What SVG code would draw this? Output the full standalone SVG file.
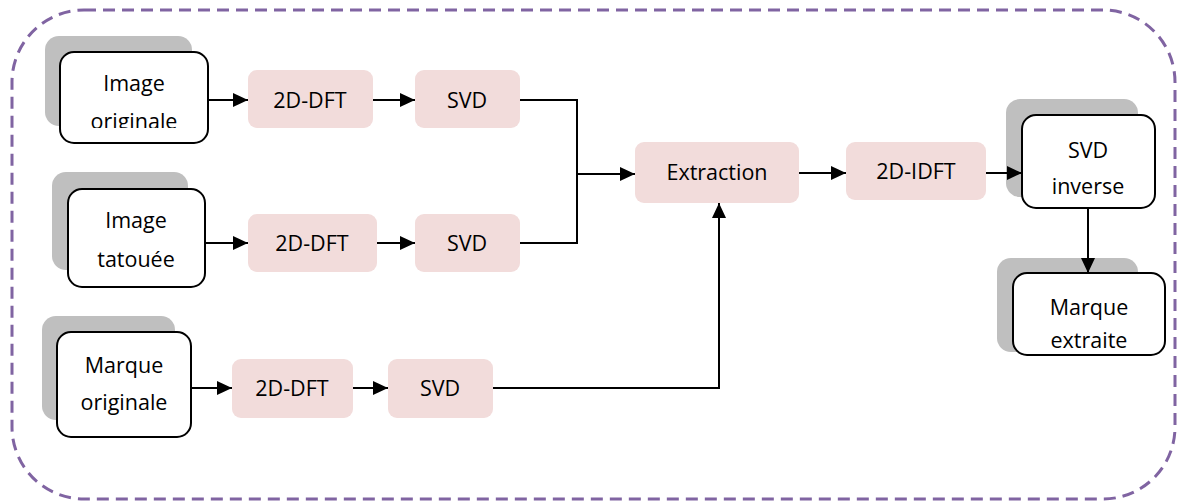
<svg xmlns="http://www.w3.org/2000/svg" width="1179" height="503" viewBox="0 0 1179 503">
<defs>
<marker id="ah" markerWidth="15" markerHeight="14" refX="15" refY="7" orient="auto" markerUnits="userSpaceOnUse">
<path d="M0,0 L15,7 L0,14 Z" fill="#000"/>
</marker>
<clipPath id="c1"><rect x="60" y="52" width="148" height="76"/></clipPath>
</defs>
<style>
.shadow{fill:#BFBFBF;}
.box{fill:#fff;stroke:#000;stroke-width:2;}
.proc{fill:#F2DCDB;}
text{font-family:"Open Sans","Liberation Sans",sans-serif;font-size:21.5px;fill:#000;text-anchor:middle;dominant-baseline:central;}
.conn{fill:none;stroke:#000;stroke-width:2;}
</style>
<rect x="12" y="10" width="1163" height="489" rx="72" ry="72" fill="none" stroke="#8064A2" stroke-width="3" stroke-dasharray="12 7"/>
<g id="n-orig">
<rect class="shadow" x="45" y="36" width="147" height="90" rx="14"/>
<rect class="box" x="60" y="52" width="148" height="91" rx="14"/>
<g clip-path="url(#c1)">
<text x="134" y="82">Image</text>
<text x="134" y="120">originale</text>
</g>
</g>
<g id="n-tat">
<rect class="shadow" x="52" y="172" width="136" height="98" rx="14"/>
<rect class="box" x="68" y="189" width="137" height="98" rx="14"/>
<text x="136" y="219">Image</text>
<text x="136" y="258">tatouée</text>
</g>
<g id="n-marque">
<rect class="shadow" x="42" y="316" width="133" height="104" rx="14"/>
<rect class="box" x="57" y="332" width="134" height="105" rx="14"/>
<text x="124" y="364">Marque</text>
<text x="124" y="401">originale</text>
</g>
<g id="p-dft1"><rect class="proc" x="248" y="70" width="125" height="58" rx="9"/><text x="310" y="99">2D-DFT</text></g>
<g id="p-svd1"><rect class="proc" x="415" y="70" width="105" height="58" rx="9"/><text x="467" y="99">SVD</text></g>
<g id="p-dft2"><rect class="proc" x="248" y="214" width="129" height="58" rx="9"/><text x="312" y="242">2D-DFT</text></g>
<g id="p-svd2"><rect class="proc" x="415" y="214" width="105" height="58" rx="9"/><text x="467" y="242">SVD</text></g>
<g id="p-dft3"><rect class="proc" x="232" y="359" width="121" height="59" rx="9"/><text x="292" y="387">2D-DFT</text></g>
<g id="p-svd3"><rect class="proc" x="388" y="359" width="105" height="59" rx="9"/><text x="440" y="387">SVD</text></g>
<g id="p-extr"><rect class="proc" x="635" y="142" width="164" height="61" rx="9"/><text x="717" y="171">Extraction</text></g>
<g id="p-idft"><rect class="proc" x="846" y="142" width="140" height="58" rx="9"/><text x="916" y="170">2D-IDFT</text></g>
<g id="n-svdinv">
<rect class="shadow" x="1006" y="99" width="132" height="98" rx="14"/>
<rect class="box" x="1022" y="115" width="133" height="93" rx="14"/>
<text x="1088" y="149">SVD</text>
<text x="1088" y="185">inverse</text>
</g>
<g id="n-extraite">
<rect class="shadow" x="997" y="258" width="141" height="94" rx="14"/>
<rect class="box" x="1013" y="273" width="152" height="82" rx="14"/>
<text x="1089" y="306">Marque</text>
<text x="1089" y="339">extraite</text>
</g>
<g id="connectors">
<line class="conn" x1="208" y1="100" x2="248" y2="100" marker-end="url(#ah)"/>
<line class="conn" x1="373" y1="100" x2="415" y2="100" marker-end="url(#ah)"/>
<line class="conn" x1="205" y1="243" x2="248" y2="243" marker-end="url(#ah)"/>
<line class="conn" x1="377" y1="243" x2="415" y2="243" marker-end="url(#ah)"/>
<line class="conn" x1="191" y1="388" x2="232" y2="388" marker-end="url(#ah)"/>
<line class="conn" x1="353" y1="388" x2="388" y2="388" marker-end="url(#ah)"/>
<polyline class="conn" points="520,100 577,100 577,243 520,243"/>
<line class="conn" x1="577" y1="174" x2="635" y2="174" marker-end="url(#ah)"/>
<polyline class="conn" points="493,388 719,388 719,203" marker-end="url(#ah)"/>
<line class="conn" x1="799" y1="173" x2="846" y2="173" marker-end="url(#ah)"/>
<line class="conn" x1="986" y1="173" x2="1022" y2="173" marker-end="url(#ah)"/>
<line class="conn" x1="1088" y1="208" x2="1088" y2="273" marker-end="url(#ah)"/>
</g>
</svg>
